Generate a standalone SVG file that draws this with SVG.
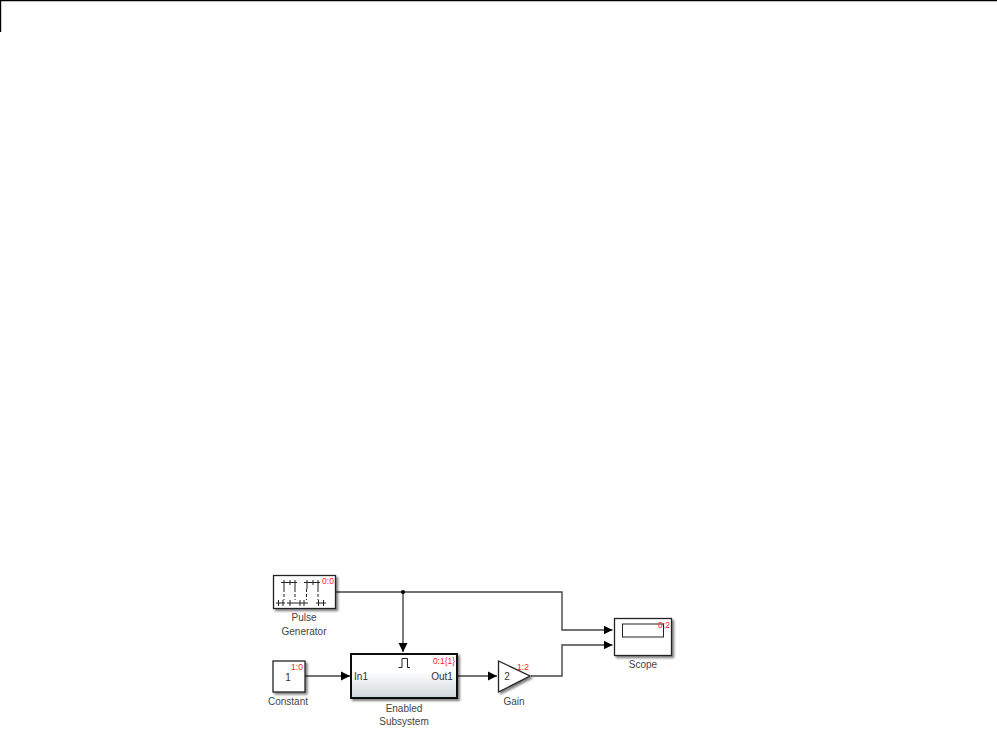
<svg xmlns="http://www.w3.org/2000/svg" width="997" height="739" viewBox="0 0 997 739">
<defs>
<marker id="arr" markerUnits="userSpaceOnUse" markerWidth="10" markerHeight="10" refX="9" refY="5" orient="auto"><path d="M0,0.5 L9,5 L0,9.5 Z" fill="#000"/></marker>
<linearGradient id="g" x1="0" y1="0" x2="0" y2="1"><stop offset="0.4" stop-color="#ffffff"/><stop offset="1" stop-color="#cfd6da"/></linearGradient>
<filter id="sh" x="-20%" y="-20%" width="140%" height="140%"><feDropShadow dx="2" dy="2" stdDeviation="1.3" flood-color="#000" flood-opacity="0.5"/></filter>
</defs>
<style>
text{font-family:"Liberation Sans",Arial,sans-serif;font-size:10px;fill:#444;text-anchor:middle}
.t{fill:#ff2020;font-size:8.500px}
.b{fill:#fff;stroke:#222;stroke-width:1.3;filter:url(#sh)}
.c{fill:none;stroke:#444;stroke-width:1.4}
.g{fill:none;stroke:#222;stroke-width:1}
.d{fill:none;stroke:#222;stroke-width:1;stroke-dasharray:3 2}
.i{fill:#333;font-size:10px}
</style>
<rect width="997" height="739" fill="#fff"/>
<path d="M0,0.500 H997 M0.500,0 V32" fill="none" stroke="#000" stroke-width="1.4"/>
<g id="connectors">
<path class="c" d="M336,592 H562 V630 H612.500" marker-end="url(#arr)"/>
<path class="c" d="M403,592 V652" marker-end="url(#arr)"/>
<path class="c" d="M305,676 H350" marker-end="url(#arr)"/>
<path class="c" d="M457,676 H497" marker-end="url(#arr)"/>
<path class="c" d="M531,676 H562 V645 H612.500" marker-end="url(#arr)"/>
<circle cx="403" cy="592" r="2" fill="#000"/>
</g>
<g id="pulse">
<rect class="b" x="273.500" y="575.500" width="62" height="33"/>
<path class="g" d="M281,582.500 H297 M284,580 V589 M290,580 V585 M295,580 V589 M304,582.500 H320 M307,580 V589 M313,580 V585 M318,580 V589"/>
<path class="d" d="M284,589 V600 M295,589 V600 M306.500,589 V600 M318,589 V600"/>
<path class="g" d="M276,603 H285 M278.500,600 V606 M283,600 V606 M287,603 H308 M290,600 V606 M300,600 V606 M304,600 V606 M316,603 H326 M318.500,600 V606 M323.500,600 V606"/>
<text class="t" x="328" y="584">0:0</text>
<text x="304" y="621">Pulse</text>
<text x="304" y="635">Generator</text>
</g>
<g id="constant">
<rect class="b" x="273" y="661" width="32" height="31"/>
<text class="t" x="297" y="670">1:0</text>
<text class="i" x="288" y="681">1</text>
<text x="288" y="705">Constant</text>
</g>
<g id="subsystem">
<rect x="351" y="654" width="106" height="44" fill="url(#g)" stroke="#111" stroke-width="2" filter="url(#sh)"/>
<path class="g" d="M398.500,667.500 H402 V658.500 H407.500 V667.500 H410"/>
<text class="t" x="444" y="664">0:1{1}</text>
<text class="i" x="361" y="680">In1</text>
<text class="i" x="442" y="680">Out1</text>
<text x="404" y="712">Enabled</text>
<text x="404" y="725">Subsystem</text>
</g>
<g id="gain">
<path class="b" d="M498.500,661 L530,676 L498.500,692 Z"/>
<text class="i" x="507" y="680">2</text>
<text class="t" x="523" y="670">1:2</text>
<text x="514" y="705">Gain</text>
</g>
<g id="scope">
<rect class="b" x="614.500" y="618.500" width="57" height="37"/>
<rect x="622.500" y="624" width="41" height="13" fill="#fff" stroke="#222" stroke-width="1"/>
<text class="t" x="664" y="628">0:2</text>
<text x="643" y="668">Scope</text>
</g>
</svg>
